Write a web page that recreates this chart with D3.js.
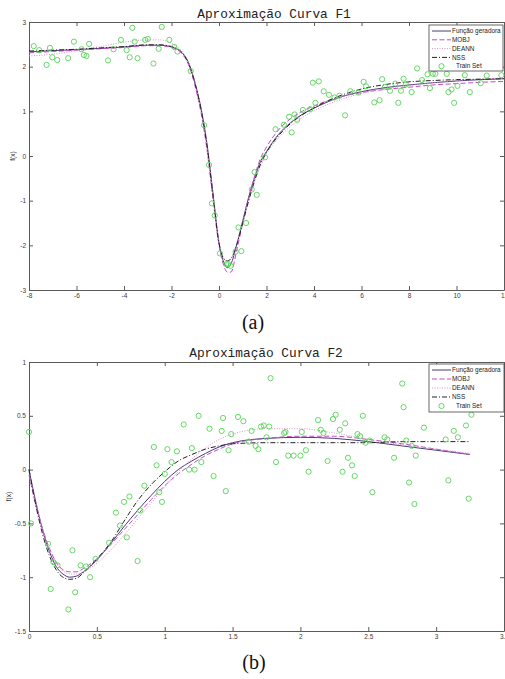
<!DOCTYPE html>
<meta charset="utf-8">
<style>
body { margin: 0; background: #fff; }
svg { display: block; }
.axis text { font: 6.5px "Liberation Sans", Arial, sans-serif; fill: #3a3a3a; }
.axis path, .axis line { stroke: #5a5a5a; }
.title { font: 12.8px "Liberation Mono", "Courier New", monospace; fill: #222; }
.ylab { font: 6.5px "Liberation Sans", Arial, sans-serif; fill: #333; }
.legend text { font: 6.4px "Liberation Sans", Arial, sans-serif; fill: #222; }
.caption { font: 20px "Liberation Serif", "Times New Roman", serif; fill: #111; }
</style>
<svg width="505" height="679"></svg>
<script src="https://cdn.jsdelivr.net/npm/d3@7"></script>
<script>

// ---- F1 data ----
var f1X     = [-8, -7, -6, -5, -4, -3, -2.5, -2, -1.5, -1.25, -1, -0.75, -0.5, -0.25, 0, 0.2, 0.35, 0.5, 0.75, 1, 1.25, 1.5, 1.75, 2, 2.5, 3, 3.5, 4, 5, 6, 7, 8, 9, 10, 11, 12];
var f1Gen   = [2.33, 2.36, 2.38, 2.41, 2.44, 2.48, 2.48, 2.44, 2.28, 2.05, 1.62, 1.05, 0.25, -0.85, -1.95, -2.38, -2.50, -2.42, -1.98, -1.45, -0.92, -0.48, -0.12, 0.10, 0.48, 0.74, 0.93, 1.07, 1.30, 1.44, 1.53, 1.59, 1.64, 1.68, 1.71, 1.73];
var f1Mobj  = [2.31, 2.34, 2.37, 2.40, 2.43, 2.47, 2.47, 2.43, 2.25, 2.00, 1.55, 0.95, 0.12, -0.98, -2.00, -2.45, -2.60, -2.60, -2.10, -1.50, -0.95, -0.45, -0.05, 0.20, 0.58, 0.83, 1.00, 1.12, 1.31, 1.42, 1.49, 1.54, 1.59, 1.62, 1.65, 1.67];
var f1Deann = [2.24, 2.28, 2.36, 2.45, 2.55, 2.60, 2.60, 2.52, 2.30, 2.05, 1.60, 1.00, 0.20, -0.90, -1.90, -2.30, -2.36, -2.30, -1.95, -1.48, -1.00, -0.58, -0.22, 0.05, 0.40, 0.66, 0.86, 1.01, 1.24, 1.40, 1.51, 1.58, 1.64, 1.69, 1.72, 1.75];
var f1Nss   = [2.35, 2.37, 2.39, 2.42, 2.45, 2.49, 2.49, 2.45, 2.28, 2.03, 1.60, 1.02, 0.20, -0.90, -1.95, -2.30, -2.35, -2.30, -1.98, -1.50, -1.00, -0.55, -0.18, 0.08, 0.45, 0.72, 0.92, 1.08, 1.33, 1.50, 1.60, 1.66, 1.69, 1.71, 1.72, 1.73];
var f1TrainX = [-7.8, -7.57, -7.12, -7.26, -7.02, -6.81, -6.35, -6.11, -5.79, -5.69, -5.58, -5.47, -4.67, -4.44, -4.13, -3.89, -3.76, -3.65, -3.55, -3.43, -3.11, -3.0, -2.76, -2.54, -2.41, -2.09, -1.88, -1.75, -1.19, -0.63, -0.42, -0.30, -0.18, 0.04, 0.31, 0.39, 0.49, 0.70, 0.94, 0.82, 1.14, 1.38, 1.59, 1.50, 1.94,
  2.38, 2.73, 3.06, 2.95, 3.18, 3.29, 3.53, 3.84, 4.06, 3.95, 4.20, 4.41, 4.63, 4.86, 5.07, 5.31, 5.53, 5.87, 6.09, 6.19, 6.54, 6.76, 6.87, 6.99, 7.20, 7.42, 7.55, 7.66, 7.77, 7.87, 8.11, 8.34, 8.55, 8.78, 8.88, 9.00, 9.11, 9.59, 9.66, 9.79, 9.90, 10.04, 10.35, 10.56, 11.02, 11.27, 11.89];
var f1TrainY = [2.46, 2.37, 2.42, 2.04, 2.21, 2.15, 2.19, 2.56, 2.39, 2.26, 2.24, 2.51, 2.14, 2.39, 2.60, 2.37, 2.21, 2.87, 2.56, 2.19, 2.60, 2.62, 2.07, 2.40, 2.89, 2.60, 2.44, 2.34, 1.90, 0.69, -0.20, -1.06, -1.33, -2.18, -2.42, -2.42, -2.46, -2.14, -2.13, -1.60, -1.50, -0.75, -0.87, -0.36, -0.03,
  0.60, 0.70, 0.53, 0.88, 0.93, 0.81, 1.03, 1.05, 1.19, 1.64, 1.67, 1.45, 1.37, 1.31, 1.35, 0.91, 1.45, 1.42, 1.66, 1.56, 1.20, 1.25, 1.72, 1.55, 1.46, 1.62, 1.19, 1.46, 1.73, 1.60, 1.43, 1.96, 1.70, 1.83, 1.52, 1.84, 1.84, 1.84, 1.43, 1.49, 1.19, 1.57, 1.81, 1.43, 1.63, 1.80, 1.81];

// ---- F2 data ----
var f2X     = [0, 0.05, 0.1, 0.15, 0.2, 0.25, 0.3, 0.35, 0.4, 0.5, 0.6, 0.7, 0.8, 0.9, 1.0, 1.1, 1.2, 1.3, 1.4, 1.5, 1.75, 2.0, 2.25, 2.5, 2.75, 3.0, 3.25];
var f2Gen   = [0.00, -0.30, -0.56, -0.76, -0.90, -0.97, -1.00, -0.99, -0.95, -0.84, -0.69, -0.53, -0.38, -0.24, -0.11, 0.00, 0.08, 0.15, 0.21, 0.25, 0.29, 0.30, 0.29, 0.26, 0.22, 0.18, 0.14];
var f2Mobj  = [-0.05, -0.33, -0.55, -0.73, -0.86, -0.93, -0.95, -0.95, -0.92, -0.83, -0.70, -0.56, -0.42, -0.28, -0.15, -0.04, 0.05, 0.13, 0.19, 0.24, 0.29, 0.31, 0.31, 0.28, 0.24, 0.19, 0.14];
var f2Deann = [-0.02, -0.30, -0.55, -0.74, -0.87, -0.94, -0.97, -0.97, -0.95, -0.87, -0.75, -0.61, -0.46, -0.31, -0.16, -0.02, 0.10, 0.20, 0.28, 0.33, 0.38, 0.38, 0.34, 0.28, 0.23, 0.19, 0.15];
var f2Nss   = [0.00, -0.33, -0.60, -0.80, -0.93, -1.00, -1.02, -1.01, -0.96, -0.83, -0.68, -0.48, -0.29, -0.14, -0.02, 0.08, 0.14, 0.19, 0.22, 0.24, 0.25, 0.25, 0.25, 0.25, 0.26, 0.26, 0.26];
var f2TrainX = [0.0, 0.015, 0.14, 0.16, 0.18, 0.21, 0.29, 0.32, 0.34, 0.38, 0.42, 0.45, 0.49, 0.59, 0.64, 0.67, 0.70, 0.72, 0.74, 0.80, 0.82, 0.85, 0.92, 0.94, 0.96, 0.98, 1.0, 1.02, 1.05, 1.09, 1.14, 1.18, 1.20, 1.22, 1.25, 1.27, 1.33, 1.36, 1.42, 1.43, 1.45, 1.47, 1.49, 1.54, 1.58, 1.62, 1.64, 1.67, 1.69, 1.71, 1.73, 1.75, 1.77, 1.78, 1.82, 1.88, 1.89, 1.91, 1.95, 2.0,
  2.01, 2.04, 2.06, 2.13, 2.15, 2.17, 2.20, 2.24, 2.26, 2.29, 2.31, 2.33, 2.35, 2.38, 2.40, 2.42, 2.44, 2.46, 2.48, 2.51, 2.53, 2.62, 2.64, 2.69, 2.75, 2.76, 2.78, 2.80, 2.82, 2.84, 2.85, 2.91, 3.07, 3.09, 3.13, 3.16, 3.22, 3.24, 3.26];
var f2TrainY = [0.35, -0.50, -0.69, -1.11, -0.86, -0.89, -1.30, -0.75, -1.14, -0.89, -0.90, -1.0, -0.83, -0.68, -0.40, -0.52, -0.30, -0.63, -0.25, -0.85, -0.38, -0.15, 0.21, 0.04, -0.21, -0.30, -0.04, 0.19, 0.07, 0.17, 0.42, 0.0, 0.20, 0.0, 0.50, 0.07, 0.38, -0.06, 0.36, 0.48, -0.20, 0.18, 0.33, 0.49, 0.45, 0.26, 0.36, 0.22, 0.19, 0.40, 0.41, 0.30, 0.40, 0.85, 0.07, 0.34, 0.35, 0.13, 0.13, 0.13,
  0.35, 0.18, -0.02, 0.46, 0.37, 0.34, 0.08, 0.47, 0.51, 0.37, -0.02, 0.43, 0.11, 0.04, -0.06, 0.33, 0.31, 0.50, 0.25, 0.27, -0.21, 0.30, 0.28, 0.11, 0.80, 0.58, 0.27, -0.12, 0.22, -0.32, 0.13, 0.39, 0.28, -0.10, 0.36, 0.30, 0.41, -0.27, 0.51];

var legendLabels = ["Função geradora", "MOBJ", "DEANN", "NSS", "Train Set"];

var svg = d3.select("svg");

var styles = [
  {color: "#463c78", dash: null},
  {color: "#c54cc5", dash: "5,2.5"},
  {color: "#dc92c9", dash: "1,1.5"},
  {color: "#222222", dash: "5,2,1,2"}
];
var trainColor = "#55d455";

function panel(p) {
  var g = svg.append("g");
  var x = d3.scaleLinear().domain(p.xDomain).range([p.left, p.right]);
  var y = d3.scaleLinear().domain(p.yDomain).range([p.bottom, p.top]);
  var fmt = function(d) { return String(d); };

  g.append("g").attr("class", "axis")
      .attr("transform", "translate(0," + p.bottom + ")")
      .call(d3.axisBottom(x).tickValues(p.xTicks).tickFormat(fmt).tickSize(-4).tickSizeOuter(0).tickPadding(3));
  g.append("g").attr("class", "axis")
      .attr("transform", "translate(0," + p.top + ")")
      .call(d3.axisTop(x).tickValues(p.xTicks).tickFormat("").tickSize(-4).tickSizeOuter(0));
  g.append("g").attr("class", "axis")
      .attr("transform", "translate(" + p.left + ",0)")
      .call(d3.axisLeft(y).tickValues(p.yTicks).tickFormat(fmt).tickSize(-4).tickSizeOuter(0).tickPadding(3));
  g.append("g").attr("class", "axis")
      .attr("transform", "translate(" + p.right + ",0)")
      .call(d3.axisRight(y).tickValues(p.yTicks).tickFormat("").tickSize(-4).tickSizeOuter(0));

  var line = d3.line()
      .x(function(d) { return x(d[0]); })
      .y(function(d) { return y(d[1]); })
      .curve(d3.curveMonotoneX);

  p.series.forEach(function(s, i) {
    g.append("path")
        .datum(p.xs.map(function(v, j) { return [v, s[j]]; }))
        .attr("fill", "none")
        .attr("stroke", styles[i].color)
        .attr("stroke-width", 1)
        .attr("stroke-dasharray", styles[i].dash)
        .attr("d", line);
  });

  g.selectAll(".pt")
    .data(p.trainX.map(function(v, j) { return [v, p.trainY[j]]; }))
    .enter().append("circle")
      .attr("cx", function(d) { return x(d[0]); })
      .attr("cy", function(d) { return y(d[1]); })
      .attr("r", 2.6)
      .attr("fill", "none")
      .attr("stroke", trainColor)
      .attr("stroke-width", 0.9);

  g.append("text").attr("class", "title")
      .attr("x", p.titleX).attr("y", p.titleY)
      .attr("text-anchor", "middle")
      .text(p.title);

  g.append("text").attr("class", "ylab")
      .attr("transform", "translate(" + p.ylabX + "," + ((p.top + p.bottom) / 2) + ") rotate(-90)")
      .attr("text-anchor", "middle")
      .text("f(x)");

  // legend
  var lg = g.append("g").attr("class", "legend");
  lg.append("rect")
      .attr("x", p.legend.x).attr("y", p.legend.y)
      .attr("width", p.legend.w).attr("height", p.legend.h)
      .attr("fill", "#fff").attr("stroke", "#444").attr("stroke-width", 0.8);
  legendLabels.forEach(function(lab, i) {
    var ly = p.legend.y + 6 + i * p.legend.step;
    if (i < 4) {
      lg.append("line")
          .attr("x1", p.legend.x + 3).attr("x2", p.legend.x + 22)
          .attr("y1", ly).attr("y2", ly)
          .attr("stroke", styles[i].color)
          .attr("stroke-dasharray", styles[i].dash);
    } else {
      lg.append("circle")
          .attr("cx", p.legend.x + 12.5).attr("cy", ly).attr("r", 2.6)
          .attr("fill", "none").attr("stroke", trainColor).attr("stroke-width", 0.9);
    }
    lg.append("text")
        .attr("x", p.legend.x + (i < 4 ? 23 : 27)).attr("y", ly)
        .attr("dy", "0.35em")
        .text(lab);
  });

  g.append("text").attr("class", "caption")
      .attr("x", p.capX).attr("y", p.capY)
      .attr("text-anchor", "middle")
      .text(p.caption);
}

panel({
  xDomain: [-8, 12], yDomain: [-3, 3],
  left: 29, right: 504, top: 22, bottom: 290,
  xTicks: d3.range(-8, 13, 2), yTicks: d3.range(-3, 4, 1),
  xs: f1X, series: [f1Gen, f1Mobj, f1Deann, f1Nss],
  trainX: f1TrainX, trainY: f1TrainY,
  title: "Aproximação Curva F1", titleX: 274, titleY: 18,
  ylabX: 15,
  legend: {x: 429, y: 25, w: 74, h: 46, step: 8.8},
  caption: "(a)", capX: 253, capY: 329
});

panel({
  xDomain: [0, 3.5], yDomain: [-1.5, 1],
  left: 29, right: 504, top: 362, bottom: 631,
  xTicks: d3.range(0, 3.6, 0.5), yTicks: d3.range(-1.5, 1.1, 0.5),
  xs: f2X, series: [f2Gen, f2Mobj, f2Deann, f2Nss],
  trainX: f2TrainX, trainY: f2TrainY,
  title: "Aproximação Curva F2", titleX: 266, titleY: 357,
  ylabX: 11,
  legend: {x: 429, y: 364, w: 75, h: 48, step: 9},
  caption: "(b)", capX: 254, capY: 669
});

</script>
